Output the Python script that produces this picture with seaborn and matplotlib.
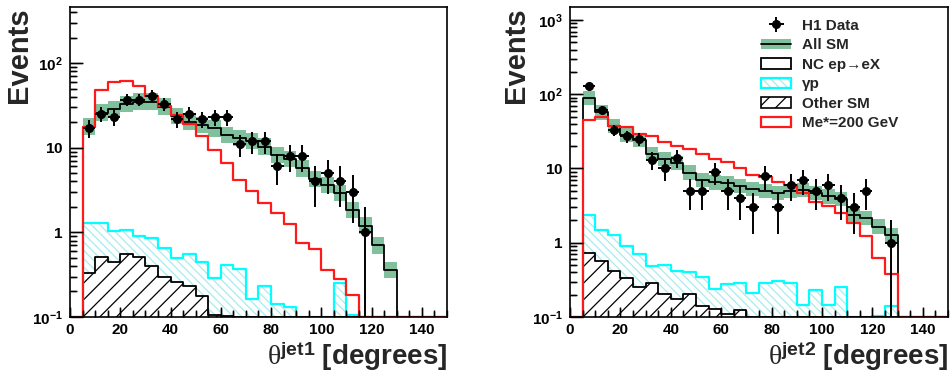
import numpy as np
import matplotlib
matplotlib.use('Agg')
import matplotlib.pyplot as plt
import seaborn as sns
from matplotlib.patches import Patch
from matplotlib.lines import Line2D
from matplotlib.ticker import FixedLocator, FixedFormatter, LogLocator, MultipleLocator, NullFormatter

# 5 degree bins from 0 to 150
bin_edges = np.arange(0, 155, 5)
bin_centers = bin_edges[:-1] + 2.5

# theta jet1 (left)
jet1_data = [0, 17, 25, 23, 37, 37, 41, 33, 22, 25, 22, 23, 23, 11, 12, 12, 6, 8, 8, 4, 5, 4, 3, 1, 0, 0, 0, 0, 0, 0]
jet1_err = [0, 4.1, 5.0, 4.8, 6.1, 6.1, 6.4, 5.7, 4.7, 5.0, 4.7, 4.8, 4.8, 3.3, 3.5, 3.5, 2.4, 2.8, 2.8, 2.0, 2.2, 2.0, 1.7, 1.0, 0, 0, 0, 0, 0, 0]
jet1_sm = [0, 17.7, 26, 28.4, 32.9, 35, 35, 30.6, 23.7, 20.3, 18.5, 16.9, 14.1, 13.1, 12, 10.3, 8.2, 7.3, 5.7, 4.3, 3.6, 2.9, 1.83, 1.2, 0.70, 0.36, 0, 0, 0, 0]
jet1_gp = [0, 1.30, 1.30, 1.04, 1.07, 0.90, 0.86, 0.66, 0.50, 0.55, 0.45, 0.29, 0.41, 0.37, 0.165, 0.23, 0.141, 0.131, 0, 0, 0, 0.255, 0.105, 0, 0, 0, 0, 0, 0, 0]
jet1_other = [0, 0.33, 0.51, 0.45, 0.55, 0.51, 0.40, 0.30, 0.26, 0.23, 0.176, 0.105, 0.102, 0, 0, 0, 0, 0, 0, 0, 0, 0, 0, 0, 0, 0, 0, 0, 0, 0]
jet1_estar = [0, 17.4, 48, 60, 61, 53.7, 41.2, 31.1, 24.4, 19.1, 13.7, 9.4, 6.6, 4.2, 3.1, 2.23, 1.67, 1.25, 0.75, 0.63, 0.36, 0.28, 0.18, 0, 0, 0, 0, 0, 0, 0]

# theta jet2 (right)
jet2_data = [0, 130, 62, 33, 27, 25, 13, 10, 14, 5, 5, 9, 5, 4, 3, 8, 3, 6, 7, 5, 6, 4, 3, 5, 0, 1, 0, 0, 0, 0]
jet2_err = [0, 11.4, 7.9, 5.7, 5.2, 5.0, 3.6, 3.2, 3.7, 2.2, 2.2, 3.0, 2.2, 2.0, 1.7, 2.8, 1.7, 2.4, 2.6, 2.2, 2.4, 2.0, 1.7, 2.2, 0, 1.0, 0, 0, 0, 0]
jet2_sm = [0, 88.7, 56.9, 37.6, 28.4, 24.4, 15.8, 13.4, 11.8, 8.8, 7.0, 6.5, 6.3, 5.8, 5.3, 5.0, 4.7, 5.0, 5.15, 4.7, 4.2, 3.9, 2.37, 2.14, 1.65, 1.28, 0, 0, 0, 0]
jet2_gp = [0, 2.37, 1.49, 1.28, 0.89, 0.71, 0.48, 0.50, 0.42, 0.40, 0.35, 0.236, 0.28, 0.284, 0.21, 0.29, 0.305, 0.284, 0.145, 0.23, 0.145, 0.25, 0, 0, 0.103, 0.14, 0, 0, 0, 0]
jet2_other = [0, 0.72, 0.56, 0.42, 0.33, 0.256, 0.29, 0.204, 0.173, 0.204, 0.14, 0.127, 0.11, 0.124, 0, 0, 0, 0, 0, 0, 0, 0, 0, 0, 0, 0, 0, 0, 0, 0]
jet2_estar = [0, 44.4, 49.2, 36.8, 35.7, 29, 27, 23.1, 19.8, 18.4, 15.8, 13.5, 12.1, 10.1, 8.2, 7.8, 6.5, 6.0, 4.7, 3.5, 3.1, 2.5, 1.83, 1.24, 0.62, 0.38, 0, 0, 0, 0]

sm_band = 1.25  # SM uncertainty band, multiplicative

green = '#80c09c'
gp_hatch = '#a8ecf0'
YMIN = 0.1

sns.set_theme(style='ticks')
plt.rcParams['font.family'] = ['Liberation Sans', 'DejaVu Sans']
plt.rcParams['font.weight'] = 'bold'
plt.rcParams['mathtext.fontset'] = 'custom'
plt.rcParams['mathtext.bf'] = 'Liberation Sans:bold'
plt.rcParams['mathtext.rm'] = 'Liberation Serif:regular'
plt.rcParams['mathtext.it'] = 'Liberation Serif:italic'
plt.rcParams['hatch.linewidth'] = 0.9
plt.rcParams['axes.linewidth'] = 1.2
plt.rcParams['axes.edgecolor'] = 'black'
plt.rcParams['axes.axisbelow'] = False


def floor(v):
    return np.maximum(np.asarray(v, float), YMIN)


def step(ax, vals, color, lw):
    sns.histplot(x=bin_centers, weights=floor(vals), bins=bin_edges.tolist(), element='step',
                 fill=False, color=color, linewidth=lw, ax=ax)


def setup_axes(ax, ymax, yticks, yticklabels):
    ax.set_yscale('log')
    ax.set_xlim(0, 150)
    ax.set_ylim(YMIN, ymax)
    ax.yaxis.set_major_locator(FixedLocator(yticks))
    ax.yaxis.set_major_formatter(FixedFormatter(yticklabels))
    ax.yaxis.set_minor_locator(LogLocator(base=10, subs=np.arange(2, 10), numticks=20))
    ax.yaxis.set_minor_formatter(NullFormatter())
    ax.xaxis.set_major_locator(MultipleLocator(20))
    ax.xaxis.set_minor_locator(MultipleLocator(5))


def style_ticks(ax, ymax):
    ax.tick_params(which='both', direction='in', bottom=True, left=True, top=False,
                   right=False, width=1.0, color='black', labelcolor='black', labelsize=11)
    ax.tick_params(axis='y', which='major', length=9, pad=5)
    ax.tick_params(axis='y', which='minor', length=5)
    ax.tick_params(axis='x', which='major', length=7, pad=4)
    ax.tick_params(axis='x', which='minor', length=5)
    # inward tick marks drawn as short segments (ROOT style)
    w_px, h_px = 377.0, 310.0
    xt = np.arange(0, 151, 5)
    xlen = np.where(xt % 20 == 0, 9 / h_px, 6 / h_px)
    ax.vlines(xt, 0, xlen, transform=ax.get_xaxis_transform(), colors='black', lw=1.0,
              zorder=6)
    dec = 10.0 ** np.arange(-1, 4)
    yminor = np.array([d * s for d in dec for s in range(2, 10)])
    yminor = yminor[(yminor > YMIN) & (yminor < ymax)]
    ymajor = dec[(dec >= YMIN) & (dec < ymax)]
    ax.hlines(ymajor, 0, 12 / w_px, transform=ax.get_yaxis_transform(), colors='black',
              lw=1.0, zorder=6)
    ax.hlines(yminor, 0, 6 / w_px, transform=ax.get_yaxis_transform(), colors='black',
              lw=1.0, zorder=6)


def draw_panel(ax, data, err, sm, gp, other, estar, ymax, yticks, yticklabels, jet):
    setup_axes(ax, ymax, yticks, yticklabels)

    sm = np.asarray(sm, float)
    nz = np.nonzero(sm)[0]
    i0, i1 = nz[0], nz[-1] + 1
    ax.stairs(sm[i0:i1] * sm_band, bin_edges[i0:i1 + 1], baseline=sm[i0:i1] / sm_band,
              fill=True, facecolor=green, edgecolor='none', lw=0)
    step(ax, sm, 'black', 1.3)

    # gamma p
    ax.stairs(floor(gp), bin_edges, baseline=YMIN, fill=True, facecolor='white',
              edgecolor=gp_hatch, hatch='\\\\\\\\', lw=0)
    step(ax, gp, 'cyan', 1.6)

    # other SM
    ax.stairs(floor(other), bin_edges, baseline=YMIN, fill=True, facecolor='white',
              edgecolor='black', hatch='//', lw=0)
    step(ax, other, 'black', 1.3)

    # signal
    step(ax, estar, '#ff1a1a', 1.6)

    data = np.asarray(data, float)
    err = np.asarray(err, float)
    m = data > 0
    lo = np.minimum(err[m], data[m] - YMIN * 0.5)
    eb = ax.errorbar(bin_centers[m], data[m], xerr=2.5, yerr=[lo, err[m]], fmt='o',
                     color='black', ms=5.5, elinewidth=1.4, capsize=0, zorder=5)

    setup_axes(ax, ymax, yticks, yticklabels)
    style_ticks(ax, ymax)
    for lab in ax.get_xticklabels():
        lab.set_fontweight('bold')

    ax.set_ylabel('Events', loc='top', fontsize=21, fontweight='bold')
    ax.set_xlabel(r'$\mathrm{\theta}^{\mathbf{' + jet + r'}}\ \mathbf{[degrees]}$',
                  loc='right', fontsize=20)
    ax.xaxis.set_label_coords(1.0, -0.075)
    for s in ax.spines.values():
        s.set_visible(True)
        s.set_color('black')
    return eb


fig = plt.figure(figsize=(9.51, 3.76), dpi=100)
ax1 = fig.add_axes([0.0736, 0.157, 0.3964, 0.8245])
ax2 = fig.add_axes([0.5994, 0.157, 0.3975, 0.8245])

draw_panel(ax1, jet1_data, jet1_err, jet1_sm, jet1_gp, jet1_other, jet1_estar, 460,
           [0.1, 1, 10, 100],
           [r'$\mathbf{10^{-1}}$', r'$\mathbf{1}$', r'$\mathbf{10}$', r'$\mathbf{10^{2}}$'], 'jet1')
ax1.yaxis.set_label_coords(-0.098, 1.0)

eb = draw_panel(ax2, jet2_data, jet2_err, jet2_sm, jet2_gp, jet2_other, jet2_estar, 1500,
                [0.1, 1, 10, 100, 1000],
                [r'$\mathbf{10^{-1}}$', r'$\mathbf{1}$', r'$\mathbf{10}$', r'$\mathbf{10^{2}}$',
                 r'$\mathbf{10^{3}}$'], 'jet2')
ax2.yaxis.set_label_coords(-0.106, 1.0)

handles = [
    eb,
    (Patch(facecolor=green, edgecolor='none'), Line2D([], [], color='black', lw=1.3)),
    Patch(facecolor='white', edgecolor='black', lw=1.3),
    (Patch(facecolor='white', edgecolor=gp_hatch, hatch='\\\\\\\\', lw=0),
     Patch(fill=False, edgecolor='cyan', lw=1.6)),
    Patch(facecolor='white', edgecolor='black', hatch='//', lw=1.2),
    Patch(facecolor='white', edgecolor='#ff1a1a', lw=1.6),
]
labels = ['H1 Data', 'All SM', 'NC ep\u2192eX', '\u03b3p', 'Other SM', 'Me*=200 GeV']
ax2.legend(handles, labels, loc='upper left', bbox_to_anchor=(0.505, 0.962), frameon=False,
           handlelength=2.0, handleheight=0.7, labelspacing=0.36,
           handletextpad=0.7, borderpad=0, borderaxespad=0,
           prop={'weight': 'bold', 'size': 11})

fig.savefig('out.png', dpi=100)
